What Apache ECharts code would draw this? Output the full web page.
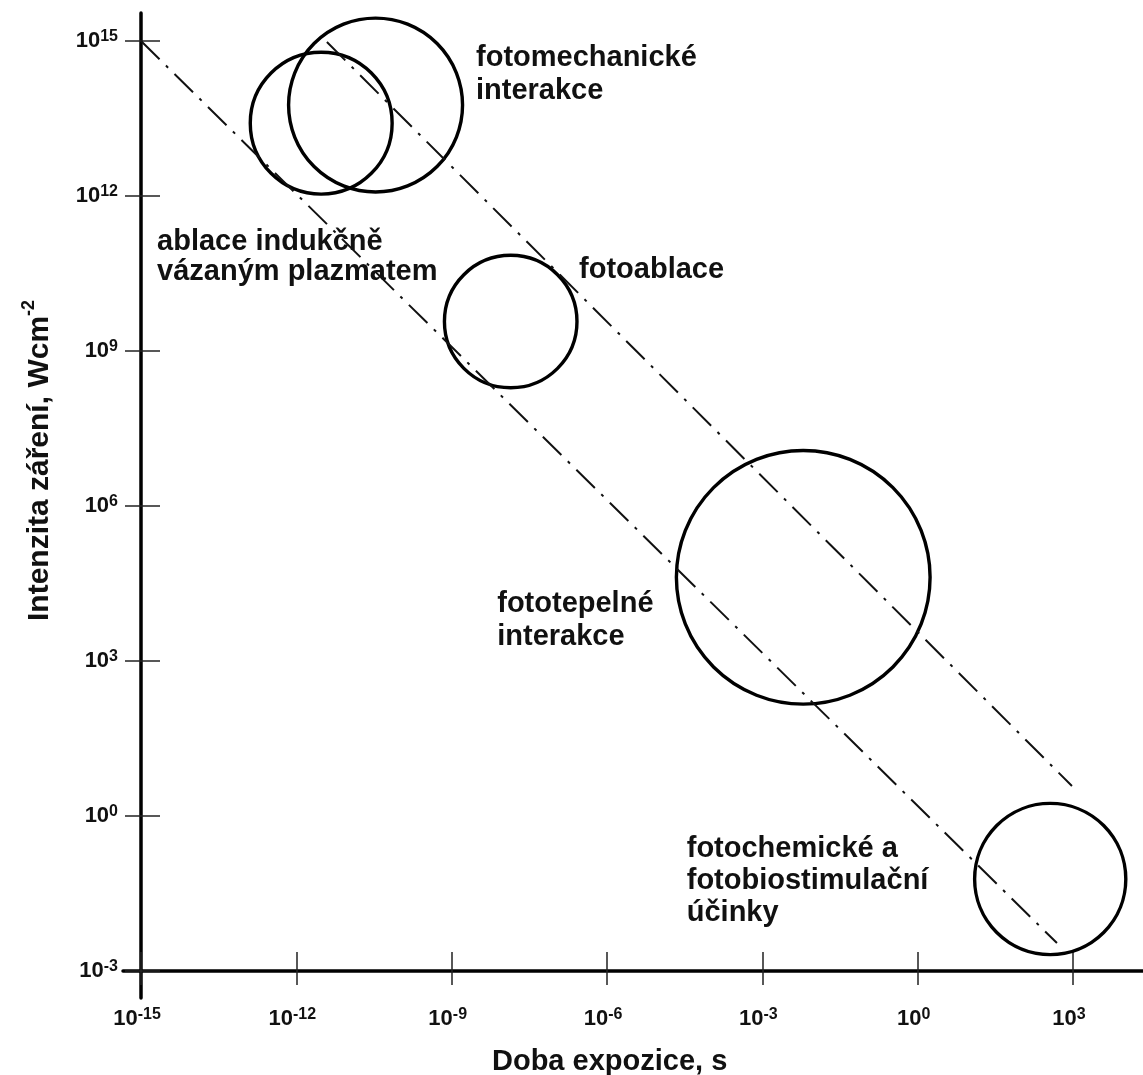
<!DOCTYPE html>
<html>
<head>
<meta charset="utf-8">
<title>Interakce laseru s tkání</title>
<script src="https://cdn.jsdelivr.net/npm/echarts@6/dist/echarts.min.js"></script>
<style>
  html, body { margin: 0; padding: 0; background: #fff; }
  #chart { width: 1143px; height: 1075px; }
</style>
</head>
<body>
<div id="chart"></div>
<script>
// All values are decimal exponents: log10(time / s) and log10(intensity / W cm^-2).

// Tick positions (exponents of ten)
const xTickExps = [-15, -12, -9, -6, -3, 0, 3];
const yTickExps = [-3, 0, 3, 6, 9, 12, 15];

// Interaction regions, drawn as circles (radius in decades)
const regionNames = ['ablace indukčně vázaným plazmatem', 'fotomechanické interakce', 'fotoablace', 'fototepelné interakce', 'fotochemické a fotobiostimulační účinky'];
const regionLogTime = [-11.52, -10.47, -7.86, -2.21, 2.56];
const regionLogIntensity = [13.41, 13.76, 9.57, 4.62, -1.22];
const regionRadius = [1.37, 1.68, 1.28, 2.45, 1.46];

// Constant-fluence boundaries (dash-dot lines), start and end points
const lowerBoundTime = [-15, 2.69];
const lowerBoundIntensity = [15, -2.46];
const upperBoundTime = [-11.41, 2.98];
const upperBoundIntensity = [14.98, 0.58];

// Region annotations, anchored at the top-left of each text block
const labelTexts = ['fotomechanické\ninterakce', 'ablace indukčně\nvázaným plazmatem', 'fotoablace', 'fototepelné\ninterakce', 'fotochemické a\nfotobiostimulační\núčinky'];
const labelLogTime = [-8.53, -14.69, -6.54, -8.12, -4.46];
const labelLogIntensity = [14.99, 11.41, 10.88, 4.42, -0.32];

// Layout / style
const FONT = '"Liberation Sans", Arial, Helvetica, sans-serif';
const INK = '#111';
const labelLineHeights = [33, 30.5, 33, 33, 32];
const X_MIN = -15.348, X_MAX = 4.352;
const Y_MIN = -3.523, Y_MAX = 15.542;

const chart = echarts.init(document.getElementById('chart'), null, { renderer: 'canvas' });

function expLabel(v) {
  const e = v < 0 ? '-' + Math.abs(v) : String(v);
  return '{b|10}{s|' + e + '}';
}
const tickRich = {
  b: { fontFamily: FONT, fontWeight: 'bold', fontSize: 22, color: INK, lineHeight: 24 },
  s: { fontFamily: FONT, fontWeight: 'bold', fontSize: 16, color: INK, lineHeight: 16, verticalAlign: 'top' }
};
const tickLine = { color: '#222', width: 1.5 };

const option = {
  animation: false,
  backgroundColor: '#fff',
  grid: { left: 123, right: 0, top: 13, bottom: 77, containLabel: false },
  xAxis: [
    {
      type: 'value', min: X_MIN, max: X_MAX, position: 'bottom', offset: -27,
      splitLine: { show: false },
      axisLine: { show: true, onZero: false, lineStyle: { color: '#000', width: 3.5 } },
      axisTick: { show: true, inside: false, length: 14, customValues: xTickExps, lineStyle: tickLine },
      axisLabel: { customValues: xTickExps, formatter: expLabel, rich: tickRich, margin: 36, padding: [0, 8, 0, 0] }
    },
    {
      type: 'value', min: X_MIN, max: X_MAX, position: 'bottom', offset: -27,
      splitLine: { show: false },
      axisLine: { show: false, onZero: false },
      axisTick: { show: true, inside: true, length: 19, customValues: xTickExps, lineStyle: tickLine },
      axisLabel: { show: false }
    }
  ],
  yAxis: [
    {
      type: 'value', min: Y_MIN, max: Y_MAX, position: 'left', offset: -18,
      splitLine: { show: false },
      axisLine: { show: true, onZero: false, lineStyle: { color: '#000', width: 3.5 } },
      axisTick: { show: true, inside: false, length: 16, customValues: yTickExps, lineStyle: tickLine },
      axisLabel: { customValues: yTickExps, formatter: expLabel, rich: tickRich, margin: 23 }
    },
    {
      type: 'value', min: Y_MIN, max: Y_MAX, position: 'left', offset: -18,
      splitLine: { show: false },
      axisLine: { show: false, onZero: false },
      axisTick: { show: true, inside: true, length: 19, customValues: yTickExps, lineStyle: tickLine },
      axisLabel: { show: false }
    }
  ],
  graphic: [
    {
      type: 'text', x: 492, y: 1062, silent: true,
      style: { text: 'Doba expozice, s', fill: INK, font: 'bold 29px ' + FONT, align: 'left', verticalAlign: 'middle' }
    },
    {
      type: 'text', x: 40, y: 621, rotation: Math.PI / 2, silent: true,
      style: {
        text: '{m|Intenzita záření, Wcm}{s|-2}', align: 'left', verticalAlign: 'middle',
        rich: {
          m: { fontFamily: FONT, fontWeight: 'bold', fontSize: 30, lineHeight: 40, fill: INK, color: INK },
          s: { fontFamily: FONT, fontWeight: 'bold', fontSize: 18, lineHeight: 18, verticalAlign: 'top', fill: INK, color: INK }
        }
      }
    }
  ],
  series: [
    {
      name: 'hranice dolní', type: 'line', xAxisIndex: 0, yAxisIndex: 0,
      symbol: 'none', silent: true,
      data: lowerBoundTime.map((t, i) => [t, lowerBoundIntensity[i]]),
      lineStyle: { color: INK, width: 2, type: [26, 9, 3, 9] }
    },
    {
      name: 'hranice horní', type: 'line', xAxisIndex: 0, yAxisIndex: 0,
      symbol: 'none', silent: true,
      data: upperBoundTime.map((t, i) => [t, upperBoundIntensity[i]]),
      lineStyle: { color: INK, width: 2, type: [26, 9, 3, 9] }
    },
    {
      name: 'oblasti', type: 'custom', xAxisIndex: 0, yAxisIndex: 0, silent: true, clip: false,
      data: regionNames.map((n, i) => ({ name: n, value: [regionLogTime[i], regionLogIntensity[i], regionRadius[i]] })),
      renderItem: function (params, api) {
        const c = api.coord([api.value(0), api.value(1)]);
        const r = api.size([api.value(2), 0])[0];
        return {
          type: 'circle',
          shape: { cx: c[0], cy: c[1], r: r },
          style: { fill: 'none', stroke: '#000', lineWidth: 3.4 }
        };
      }
    },
    {
      name: 'popisky', type: 'custom', xAxisIndex: 0, yAxisIndex: 0, silent: true, clip: false,
      data: labelTexts.map((t, i) => [labelLogTime[i], labelLogIntensity[i]]),
      renderItem: function (params, api) {
        const c = api.coord([api.value(0), api.value(1)]);
        return {
          type: 'text', x: c[0], y: c[1],
          style: {
            text: labelTexts[params.dataIndex], fill: INK,
            font: 'bold 29px ' + FONT, lineHeight: labelLineHeights[params.dataIndex],
            align: 'left', verticalAlign: 'top'
          }
        };
      }
    }
  ]
};

chart.setOption(option);
</script>
</body>
</html>
